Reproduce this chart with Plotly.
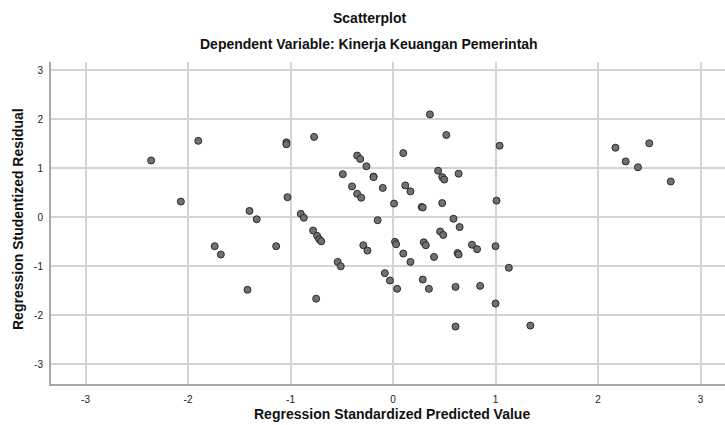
import plotly.graph_objects as go

predicted = [-2.36, -2.07, -1.90, -1.04, -1.04, -1.40, -1.33, -1.03, -0.77, 0.36,
             0.52, 1.04, 0.10, -0.35, -0.32, -0.26, -0.49, -0.19, -0.19, -0.40,
             -0.10, -0.35, -0.31, 0.01, 0.12, 0.17, 0.28, 0.29, 0.48, 0.44,
             0.48, 0.50, 0.64, 1.01, -0.90, -0.87, -0.15, 0.59, 0.65, -1.74,
             -1.68, -1.14, -1.42, -0.78, -0.74, -0.72, -0.70, -0.29, -0.25, 0.02,
             0.03, 0.30, 0.32, 0.46, 0.49, 0.77, 0.82, 1.00, 0.63, 0.64,
             0.10, 0.17, 0.40, 1.13, -0.54, -0.51, -0.08, -0.03, 0.04, 0.29,
             0.35, 0.61, 0.85, 1.00, -0.75, 0.61, 1.34, 2.17, 2.50, 2.27,
             2.39, 2.71]
residual = [1.16, 0.32, 1.56, 1.53, 1.49, 0.13, -0.04, 0.41, 1.64, 2.10,
            1.68, 1.46, 1.31, 1.26, 1.19, 1.04, 0.88, 0.83, 0.82, 0.63,
            0.60, 0.48, 0.40, 0.28, 0.65, 0.53, 0.21, 0.20, 0.29, 0.95,
            0.82, 0.77, 0.89, 0.34, 0.07, -0.01, -0.06, -0.03, -0.20, -0.59,
            -0.76, -0.59, -1.48, -0.27, -0.38, -0.45, -0.49, -0.57, -0.68, -0.50,
            -0.55, -0.51, -0.57, -0.29, -0.36, -0.56, -0.65, -0.59, -0.73, -0.76,
            -0.74, -0.91, -0.81, -1.03, -0.91, -1.00, -1.14, -1.29, -1.46, -1.27,
            -1.46, -1.42, -1.40, -1.76, -1.66, -2.23, -2.21, 1.42, 1.51, 1.14,
            1.02, 0.73]
tick_vals = [-3, -2, -1, 0, 1, 2, 3]
tick_text = ["-3", "-2", "-1", "0", "1", "2", "3"]

title_text = "Scatterplot"
subtitle_text = "Dependent Variable: Kinerja Keuangan Pemerintah"
x_title = "Regression Standardized Predicted Value"
y_title = "Regression Studentized Residual"

FONT = "Liberation Sans, Arial, sans-serif"

fig = go.Figure()
fig.add_trace(go.Scatter(
    x=predicted, y=residual, mode="markers",
    marker=dict(size=7, color="#717171", line=dict(color="#2a2a2a", width=1)),
    hoverinfo="skip", showlegend=False,
))

W, H = 725, 425
L, R, T, B = 51, 0, 62, 41

fig.update_layout(
    width=W, height=H,
    margin=dict(l=L, r=R, t=T, b=B, pad=0),
    paper_bgcolor="white", plot_bgcolor="white",
    font=dict(family=FONT, color="#222222", size=10),
    xaxis=dict(
        range=[-3.337, 3.239], tickvals=tick_vals, ticktext=tick_text,
        showgrid=True, gridcolor="#d4d4d4", gridwidth=1.5,
        zeroline=False, showline=True, linecolor="#a8a8a8", linewidth=2,
        ticks="", ticklabelstandoff=5, tickfont=dict(size=10, color="#222222"),
        automargin=False,
    ),
    yaxis=dict(
        range=[-3.402, 3.169], tickvals=tick_vals, ticktext=tick_text,
        showgrid=True, gridcolor="#d4d4d4", gridwidth=1.5,
        zeroline=False, showline=True, linecolor="#a8a8a8", linewidth=2,
        ticks="", ticklabelstandoff=4, tickfont=dict(size=10, color="#222222"),
        automargin=False,
    ),
    annotations=[
        dict(text="<b>%s</b>" % title_text, x=369, y=H - 18, xref="paper", yref="paper",
             showarrow=False, font=dict(size=14, family=FONT, color="#111111"),
             xanchor="center", yanchor="middle"),
        dict(text="<b>%s</b>" % subtitle_text, x=369, y=H - 44, xref="paper", yref="paper",
             showarrow=False, font=dict(size=14, family=FONT, color="#111111"),
             xanchor="center", yanchor="middle"),
        dict(text="<b>%s</b>" % x_title, x=392, y=H - 414, xref="paper", yref="paper",
             showarrow=False, font=dict(size=14, family=FONT, color="#111111"),
             xanchor="center", yanchor="middle"),
        dict(text="<b>%s</b>" % y_title, x=18, y=H - 219, xref="paper", yref="paper",
             showarrow=False, textangle=-90, font=dict(size=14, family=FONT, color="#111111"),
             xanchor="center", yanchor="middle"),
    ],
)

# convert annotation pixel positions to paper fractions relative to plot area
pw, ph = W - L - R, H - T - B
for a in fig.layout.annotations:
    a.x = (a.x - L) / pw
    a.y = (a.y - B) / ph

fig.write_html(
    "out.html",
    config={"displayModeBar": False},
    post_script="document.body.style.margin='0';document.body.style.overflow='hidden';",
)
